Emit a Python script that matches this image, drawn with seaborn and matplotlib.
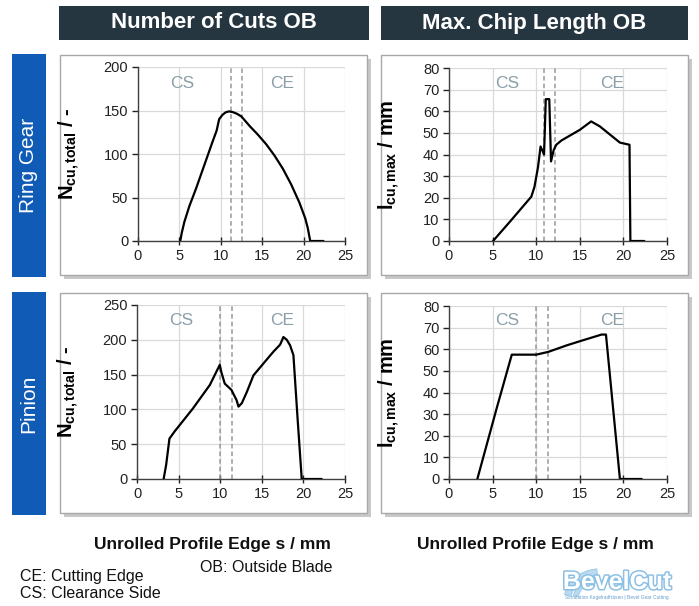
import matplotlib
matplotlib.use("Agg")
import matplotlib.pyplot as plt
import seaborn as sns
import numpy as np
import pandas as pd
from matplotlib.patches import Rectangle, Wedge
import matplotlib.patheffects as pe

# ---------------- data ----------------
ring_cuts_s = [5.1, 5.3, 5.6, 6.2, 7.0, 8.0, 9.0, 9.5, 9.8, 10.2, 10.6, 11.0, 11.5, 12.0, 12.5,
               13.5, 14.5, 15.5, 16.5, 17.5, 18.5, 19.5, 20.2, 20.5, 20.7, 20.8, 22.4]
ring_cuts_n = [0, 10, 22, 40, 60, 87, 114, 127, 140, 145, 148, 149, 148, 146, 143,
               132, 122, 111, 98, 83, 65, 44, 26, 15, 5, 0, 0]

ring_chip_s = [5.05, 7.0, 9.44, 9.8, 10.2, 10.5, 10.8, 10.9, 11.1, 11.5, 11.7, 12.0, 12.3, 12.9,
               15.0, 16.3, 17.3, 19.6, 20.7, 20.8, 22.4]
ring_chip_l = [0, 9, 20.5, 25, 34, 43.7, 41, 40, 65.6, 65.6, 36.8, 42, 44.5, 46.5,
               51.4, 55.3, 53, 45.5, 44.5, 0, 0]

pin_cuts_s = [3.2, 3.5, 3.9, 4.5, 6.7, 8.75, 9.95, 10.15, 10.55, 11.35, 11.96, 12.2, 12.6, 13.2,
              14.0, 15.2, 16.4, 17.2, 17.6, 18.0, 18.4, 18.8, 19.3, 19.8, 22.2]
pin_cuts_n = [0, 20, 58, 68, 101, 135, 164, 153, 137, 128, 113.5, 104, 109, 125,
              149, 166, 183, 193, 204, 200, 192, 178, 87, 0, 0]

pin_chip_s = [3.25, 5.46, 7.2, 10.0, 11.4, 13.5, 15.0, 17.5, 18.0, 19.6, 22.1]
pin_chip_l = [0, 32.6, 57.5, 57.5, 58.8, 61.8, 63.7, 66.8, 66.8, 0, 0]

ring_cuts_dash = [11.2, 12.6]
ring_chip_dash = [10.85, 12.2]
pin_cuts_dash = [10.0, 11.4]
pin_chip_dash = [10.0, 11.4]

col_titles = ["Number of Cuts OB", "Max. Chip Length OB"]
row_titles = ["Ring Gear", "Pinion"]
x_ticks = [0, 5, 10, 15, 20, 25]

# ---------------- style ----------------
sns.set_theme(style="white")
plt.rcParams["font.family"] = ["Liberation Sans", "DejaVu Sans"]
plt.rcParams["mathtext.fontset"] = "custom"
plt.rcParams["mathtext.rm"] = "Liberation Sans"
plt.rcParams["mathtext.bf"] = "Liberation Sans:bold"
plt.rcParams["mathtext.it"] = "Liberation Sans:italic"

W, H = 699, 606
fig = plt.figure(figsize=(W / 100, H / 100), dpi=100)
fig.patch.set_facecolor("white")


def fx(px):
    return px / W


def fy(py):
    return 1 - py / H


def rect(x0, y0, x1, y1, **kw):
    r = Rectangle((fx(x0), fy(y1)), fx(x1) - fx(x0), fy(y0) - fy(y1),
                  transform=fig.transFigure, **kw)
    fig.patches.append(r)
    return r


# headers
hdr_col = "#253641"
for (x0, x1), t in zip([(59, 369), (381, 688)], col_titles):
    rect(x0, 6, x1, 40, facecolor=hdr_col, edgecolor="none")
    fig.text(fx((x0 + x1) / 2), fy(23), t, color="white", fontsize=16,
             fontweight="bold", ha="center", va="center")

# row labels
blue = "#0f5bb5"
for (y0, y1), t in zip([(54, 277), (292, 515)], row_titles):
    rect(12, y0, 46, y1, facecolor=blue, edgecolor="none")
    fig.text(fx(29), fy((y0 + y1) / 2), t, color="white", fontsize=15,
             rotation=90, ha="center", va="center")

# panel boxes with shadow
panels = [(60, 55, 367, 275), (381, 55, 688, 275), (60, 293, 367, 513), (381, 293, 688, 513)]
for (x0, y0, x1, y1) in panels:
    rect(x0 + 4, y0 + 4, x1 + 4, y1 + 4, facecolor="#c8c8c8", edgecolor="none", zorder=0)
    rect(x0, y0, x1, y1, facecolor="white", edgecolor="#a8a8a8", linewidth=1.0, zorder=0.5)

axes_px = [(138, 67, 345, 241), (449, 68, 667, 241), (137, 305, 345, 479), (449, 306, 667, 479)]

series = [
    (ring_cuts_s, ring_cuts_n, ring_cuts_dash, 200, 50, r"$\mathbf{N}_{\mathbf{cu,total}}$ / -", -0.27,
     (5.3, 181), (17.4, 181)),
    (ring_chip_s, ring_chip_l, ring_chip_dash, 80, 10, r"$\mathbf{l}_{\mathbf{cu,max}}$ / mm", -0.215,
     (6.7, 73), (18.7, 73)),
    (pin_cuts_s, pin_cuts_n, pin_cuts_dash, 250, 50, r"$\mathbf{N}_{\mathbf{cu,total}}$ / -", -0.27,
     (5.3, 228), (17.4, 228)),
    (pin_chip_s, pin_chip_l, pin_chip_dash, 80, 10, r"$\mathbf{l}_{\mathbf{cu,max}}$ / mm", -0.215,
     (6.7, 73.4), (18.7, 73.4)),
]

label_col = "#8a9fa8"
for (x0, y0, x1, y1), (xs, ys, dashes, ymax, ystep, ylab, ylx, cs_pos, ce_pos) in zip(axes_px, series):
    ax = fig.add_axes([fx(x0), fy(y1), fx(x1) - fx(x0), fy(y0) - fy(y1)])
    ax.set_zorder(5)
    ax.set_facecolor("none")
    ax.patch.set_alpha(0)
    df = pd.DataFrame({"s": xs, "v": ys})
    sns.lineplot(data=df, x="s", y="v", estimator=None, sort=False, color="black",
                 linewidth=1.6, ax=ax, zorder=3)
    for d in dashes:
        ax.axvline(d, color="#999999", linestyle=(0, (3, 2)), linewidth=1.1, zorder=2)
    ax.set_xlim(0, 25)
    ax.set_ylim(0, ymax)
    ax.set_xticks(x_ticks)
    ax.set_yticks(np.arange(0, ymax + 1, ystep))
    ax.grid(True, color="#d9d9d9", linewidth=0.9)
    ax.set_axisbelow(True)
    for sp in ["top", "right"]:
        ax.spines[sp].set_visible(False)
    for sp in ["left", "bottom"]:
        ax.spines[sp].set_color("#404040")
        ax.spines[sp].set_linewidth(1.0)
    ax.tick_params(axis="both", labelsize=10.5, colors="#222222", length=4,
                   width=1.0, direction="out", pad=3, bottom=True, left=True)
    ax.tick_params(axis="x", direction="inout", length=6)
    ax.set_xlabel("")
    ax.set_ylabel(ylab, fontsize=14.5, fontweight="bold", color="black")
    ax.yaxis.set_label_coords(ylx, 0.5)
    ax.text(cs_pos[0], cs_pos[1], "CS", color=label_col, fontsize=12.5, ha="center", va="center")
    ax.text(ce_pos[0], ce_pos[1], "CE", color=label_col, fontsize=12.5, ha="center", va="center")

# x labels
for cx in [212, 535]:
    fig.text(fx(cx), fy(545), "Unrolled Profile Edge s / mm", fontsize=12.5,
             fontweight="bold", ha="center", va="center", color="#111111")

# legend notes
fig.text(fx(20), fy(576), "CE: Cutting Edge", fontsize=11.5, ha="left", va="center", color="#111111")
fig.text(fx(20), fy(594), "CS: Clearance Side", fontsize=11.5, ha="left", va="center", color="#111111")
fig.text(fx(200), fy(568), "OB: Outside Blade", fontsize=11.5, ha="left", va="center", color="#111111")

# logo
for cxp, cyp, r, w in [(600, 600, 36, 7), (600, 600, 27, 5)]:
    wd = Wedge((fx(cxp), fy(cyp)), fx(r), 95, 170, width=fx(w),
               transform=fig.transFigure, facecolor="#b9daf0", edgecolor="#8cc0e4", linewidth=0.5)
    fig.patches.append(wd)
logo = fig.text(fx(617), fy(582), "BevelCut", fontsize=18, fontweight="bold",
                color="white", ha="center", va="center", zorder=6)
logo.set_path_effects([pe.withStroke(linewidth=2.2, foreground="#8cc0e4")])
fig.text(fx(617), fy(597), "Simulation Kegelradfräsen | Bevel Gear Cutting", fontsize=3.5,
         color="#6a9fcc", ha="center", va="center")

fig.savefig("out.png", dpi=100, facecolor="white")
